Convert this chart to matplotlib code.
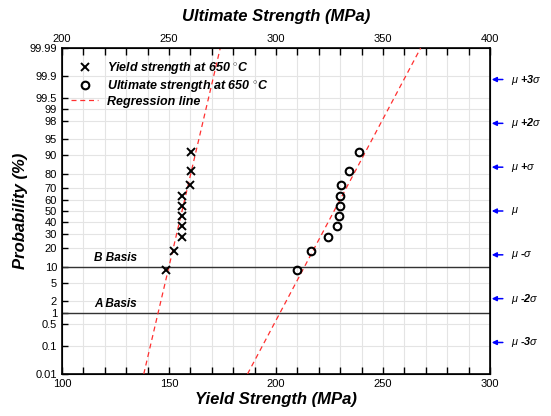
import numpy as np
import matplotlib
matplotlib.use("Agg")
import matplotlib.pyplot as plt
from matplotlib.lines import Line2D
from statistics import NormalDist

plt.rcParams['font.family'] = ['Liberation Sans', 'DejaVu Sans']
plt.rcParams['mathtext.fontset'] = 'custom'
plt.rcParams['mathtext.it'] = 'Liberation Sans:italic'
plt.rcParams['mathtext.rm'] = 'Liberation Sans:bold'

# ---------------- data ----------------
yield_strength = [148.5, 152.3, 156.0, 155.9, 155.9, 155.9, 155.9, 160.0, 160.2, 160.2]
ultimate_strength = [309.9, 316.2, 324.3, 328.3, 329.4, 329.9, 329.9, 330.4, 334.1, 339.0]
n_points = 10
prob_ticks = [0.01, 0.1, 0.5, 1, 2, 5, 10, 20, 30, 40, 50, 60, 70, 80, 90, 95, 98, 99, 99.5, 99.9, 99.99]
prob_tick_labels = ['0.01', '0.1', '0.5', '1', '2', '5', '10', '20', '30', '40', '50', '60',
                    '70', '80', '90', '95', '98', '99', '99.5', '99.9', '99.99']
sigma_levels = [3, 2, 1, 0, -1, -2, -3]
sigma_labels = [r'$\mu$ +3$\sigma$', r'$\mu$ +2$\sigma$', r'$\mu$ +$\sigma$', r'$\mu$',
                r'$\mu$ -$\sigma$', r'$\mu$ -2$\sigma$', r'$\mu$ -3$\sigma$']
basis_levels = [10, 1]
basis_labels = ['B Basis', 'A Basis']

nd = NormalDist()
def z(p):
    return nd.inv_cdf(p / 100.0)

ranks = np.arange(1, n_points + 1) / (n_points + 1) * 100
zr = np.array([z(p) for p in ranks])
zmin, zmax = z(0.01), z(99.99)
zl = np.array([zmin, zmax])

fig = plt.figure(figsize=(5.51, 4.16), dpi=100)
ax = fig.add_axes([62/551, 1 - 374/416, (490-62)/551, (374-48)/416])
ax2 = ax.twiny()

# Grid
for xv in np.arange(110, 300, 10):
    ax.axvline(xv, color='#e4e4e4', lw=0.8, zorder=0)
for p in prob_ticks[1:-1]:
    ax.axhline(z(p), color='#e4e4e4', lw=0.8, zorder=0)

# Basis lines
for lv, lb in zip(basis_levels, basis_labels):
    ax.axhline(z(lv), color='#333333', lw=1.0, zorder=2)
    ax.text(115, z(lv) + 0.07, lb, fontsize=8.5, fontweight='bold', style='italic',
            ha='left', va='bottom')

# Yield data + regression (z on x)
ax.plot(yield_strength, zr, 'x', color='black', ms=6, mew=1.4, zorder=4)
d, c = np.polyfit(yield_strength, zr, 1)
ax.plot((zl - c) / d, zl, color='#ff3030', lw=0.9, dashes=(4, 3), zorder=3)

# Ultimate data on top axis
ax2.plot(ultimate_strength, zr, 'o', mfc='none', mec='black', ms=5.5, mew=1.5, zorder=4)
d2, c2 = np.polyfit(ultimate_strength, zr, 1)
ax2.plot((zl - c2) / d2, zl, color='#ff3030', lw=0.9, dashes=(4, 3), zorder=3)

ax.set_xlim(100, 300)
ax2.set_xlim(200, 400)
ax.set_ylim(zmin, zmax)

ax.set_xticks([100, 150, 200, 250, 300])
ax.set_xticks(np.arange(100, 301, 10), minor=True)
ax2.set_xticks([200, 250, 300, 350, 400])
ax2.set_xticks(np.arange(200, 401, 10), minor=True)
ax.set_yticks([z(p) for p in prob_ticks])
ax.set_yticklabels(prob_tick_labels)

for a_ in (ax, ax2):
    a_.tick_params(which='both', direction='in', labelsize=8, width=1.0, length=5)
ax.tick_params(axis='y', which='both', right=False, length=4)
ax2.tick_params(axis='x', pad=3)
for sp in ax.spines.values():
    sp.set_linewidth(1.2)

ax.set_xlabel('Yield Strength (MPa)', fontsize=12, fontweight='bold', style='italic', labelpad=2)
ax2.set_xlabel('Ultimate Strength (MPa)', fontsize=12, fontweight='bold', style='italic', labelpad=9)
ax.set_ylabel('Probability (%)', fontsize=12, fontweight='bold', style='italic', labelpad=1)

# Legend
handles = [Line2D([], [], marker='x', ls='none', color='black', ms=6, mew=1.4),
           Line2D([], [], marker='o', ls='none', mfc='none', mec='black', ms=5.5, mew=1.5),
           Line2D([], [], color='#ff3030', lw=0.9, dashes=(4, 3))]
labels = [r'Yield strength at 650 $^{\circ}$C', r'Ultimate strength at 650 $^{\circ}$C', 'Regression line']
ax.legend(handles, labels, loc='upper left', frameon=False,
          prop={'weight': 'bold', 'style': 'italic', 'size': 9},
          handlelength=2.2, handletextpad=0.7, labelspacing=0.15,
          bbox_to_anchor=(0.0, 0.99), borderaxespad=0.3)

# Right sigma annotations
for s, lab in zip(sigma_levels, sigma_labels):
    ax.annotate('', xy=(1.004, s), xycoords=('axes fraction', 'data'),
                xytext=(1.03, s), textcoords=('axes fraction', 'data'),
                arrowprops=dict(arrowstyle='-|>', color='blue', lw=1.1, mutation_scale=7,
                                shrinkA=0, shrinkB=0))
    ax.text(1.05, s, lab, transform=ax.get_yaxis_transform(), fontsize=7.8,
            va='center', ha='left', style='italic', fontweight='bold')

fig.savefig('out.png', dpi=100)
